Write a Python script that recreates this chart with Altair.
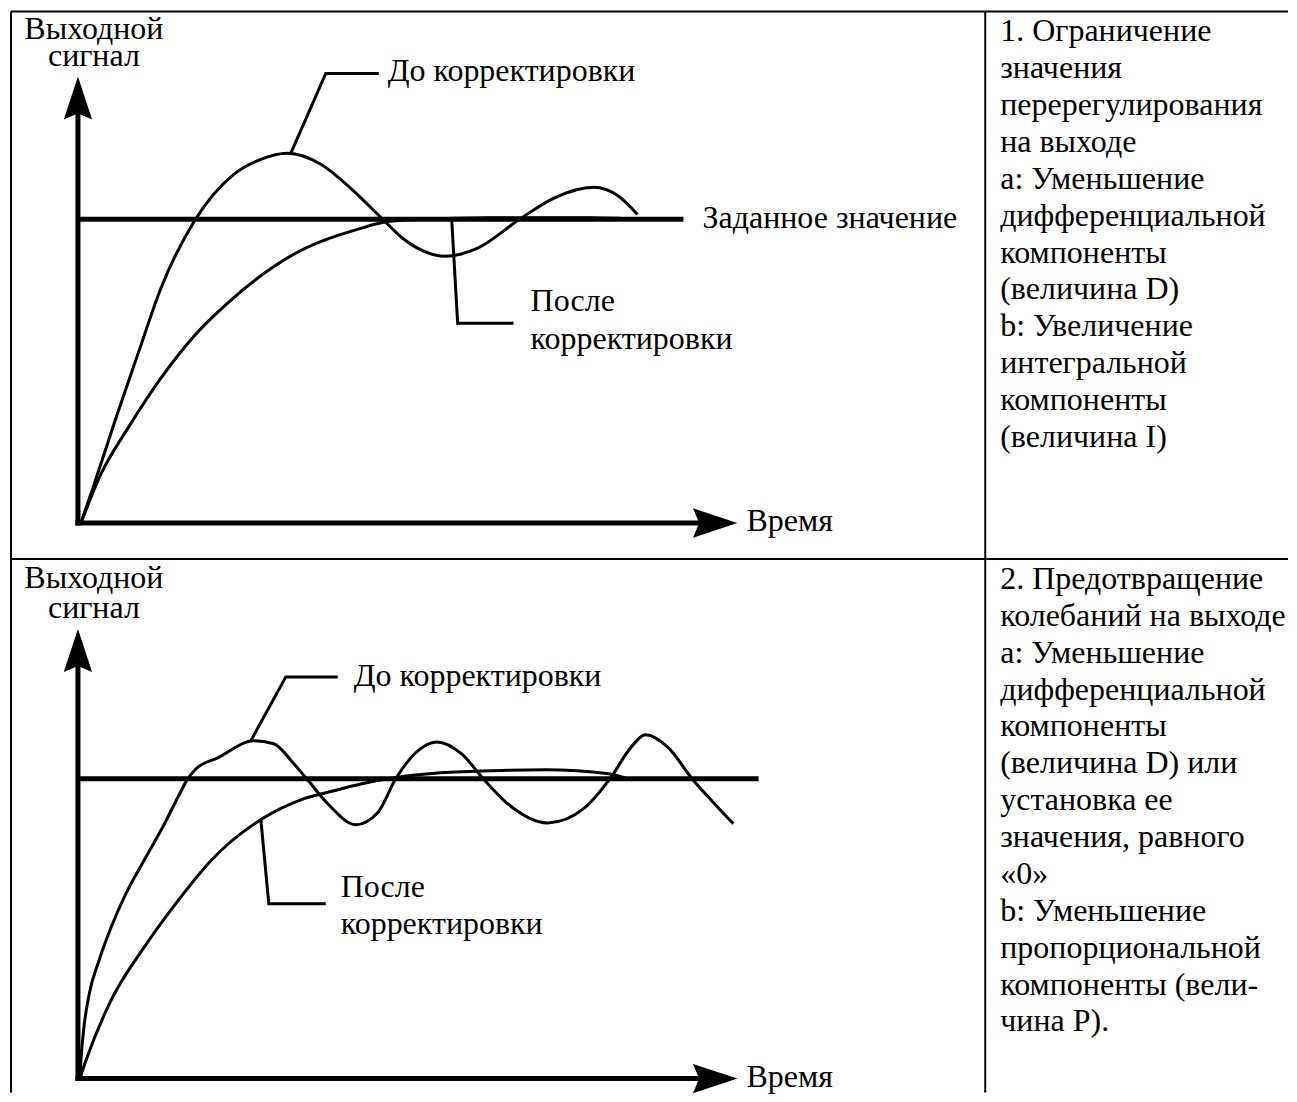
import altair as alt
import pandas as pd

# ---------------- values ----------------
# time axis t (arrow tip = 10), output v (setpoint = 1)

# Panel 1 – overshoot
p1_before_t = [0.045, 0.227, 0.561, 0.909, 1.258, 1.773, 2.364, 2.773, 3.182, 3.682, 4.136,
               4.636, 4.924, 5.242, 5.561, 6.061, 6.697, 7.212, 7.818, 8.197, 8.485]
p1_before_v = [0.0, 0.115, 0.336, 0.556, 0.773, 0.997, 1.148, 1.197, 1.217, 1.181, 1.102,
               0.997, 0.9375, 0.895, 0.878, 0.905, 1.0, 1.069, 1.105, 1.076, 1.016]
p1_after_t = [0.045, 0.348, 0.758, 1.258, 1.758, 2.273, 3.273, 4.288, 4.636, 5.197, 6.242, 7.758, 8.212]
p1_after_v = [0.0, 0.161, 0.3125, 0.477, 0.615, 0.725, 0.885, 0.970, 0.990, 1.0, 1.005, 1.005, 1.003]
p1_lead_before_t = [3.227, 3.758, 4.561]
p1_lead_before_v = [1.217, 1.480, 1.480]
p1_lead_after_t = [5.667, 5.758, 6.606]
p1_lead_after_v = [1.0, 0.658, 0.658]
p1_setpoint_end = 9.18
p1_axis_tip_t, p1_axis_tip_v = 10.0, 1.47

# Panel 2 – oscillation
p2_before_t = [0.03, 0.045, 0.09, 0.171, 0.318, 0.5, 0.727, 1.0, 1.288, 1.535, 1.662, 1.788, 2.121,
               2.667, 2.970, 3.273, 3.470, 3.788, 4.212, 4.545, 4.818, 5.121, 5.439, 5.818, 6.136,
               6.515, 7.121, 7.682, 8.076, 8.379, 8.606, 8.955, 9.303, 9.652, 9.939]
p2_before_v = [0.0, 0.06, 0.17, 0.282, 0.393, 0.503, 0.617, 0.727, 0.84, 0.947, 0.999, 1.033, 1.07,
               1.127, 1.117, 1.05, 1.0, 0.917, 0.847, 0.887, 1.0, 1.087, 1.123, 1.083, 1.003,
               0.917, 0.853, 0.903, 1.003, 1.103, 1.147, 1.103, 1.003, 0.917, 0.85]
p2_after_t = [0.03, 0.121, 0.5, 1.0, 1.515, 2.015, 2.818, 3.379, 3.879, 4.288, 4.894, 5.727, 7.091, 8.045, 8.303]
p2_after_v = [0.0, 0.06, 0.26, 0.437, 0.593, 0.727, 0.87, 0.93, 0.96, 0.983, 1.007, 1.023, 1.03, 1.017, 1.003]
p2_lead_before_t = [2.621, 3.152, 3.939]
p2_lead_before_v = [1.127, 1.34, 1.34]
p2_lead_after_t = [2.773, 2.894, 3.758]
p2_lead_after_v = [0.865, 0.583, 0.583]
p2_setpoint_end = 10.32
p2_axis_tip_t, p2_axis_tip_v = 10.0, 1.50

# labels: (text, t, v)
p1_labels_center = [("Выходной", 0.242, 1.595), ("сигнал", 0.242, 1.503)]
p1_labels_left = [("До корректировки", 4.697, 1.454), ("Заданное значение", 9.470, 0.970),
                  ("После", 6.864, 0.697), ("корректировки", 6.864, 0.572), ("Время", 10.136, -0.026)]
p2_labels_center = [("Выходной", 0.242, 1.637), ("сигнал", 0.242, 1.537)]
p2_labels_left = [("До корректировки", 4.182, 1.31), ("После", 3.985, 0.607),
                  ("корректировки", 3.985, 0.483), ("Время", 10.136, -0.027)]

row1_lines = ["1. Ограничение", "значения", "перерегулирования", "на выходе", "a: Уменьшение",
              "дифференциальной", "компоненты", "(величина D)", "b: Увеличение", "интегральной",
              "компоненты", "(величина I)"]
row2_lines = ["2. Предотвращение", "колебаний на выходе", "a: Уменьшение", "дифференциальной",
              "компоненты", "(величина D) или", "установка ее", "значения, равного", "«0»",
              "b: Уменьшение", "пропорциональной", "компоненты (вели-", "чина P)."]

# ---------------- layout ----------------
DIAG_W = 975
TEXT_W = 303
ROW1_H = 548
ROW2_H = 534
FONT = "Liberation Serif, Times New Roman, serif"
FS_LEFT = 32
FS_RIGHT = 32
LINE_STEP = 36.9
FIRST_BASE = 30

UP_ARROW = "M0,0 L0.66,2 L0,1.72 L-0.66,2 Z"
RIGHT_ARROW = "M0,0 L-2,-0.66 L-1.72,0 L-2,0.66 Z"

one = pd.DataFrame({"a": [0]})


def frame_rules(w, h, right=True):
    layers = [
        alt.Chart(one).mark_rule(color="black", strokeWidth=2).encode(
            x=alt.value(0), x2=alt.value(w), y=alt.value(0)),
        alt.Chart(one).mark_rule(color="black", strokeWidth=2).encode(
            x=alt.value(0), y=alt.value(0), y2=alt.value(h)),
    ]
    if right:
        layers.append(alt.Chart(one).mark_rule(color="black", strokeWidth=2).encode(
            x=alt.value(w), y=alt.value(0), y2=alt.value(h)))
    return layers


def panel(h, origin_x, origin_y, sx, sy, before_t, before_v, after_t, after_v,
          lb_t, lb_v, la_t, la_v, sp_end, tip_t, tip_v, lab_c, lab_l):
    xs = alt.Scale(domain=[-origin_x / sx, (DIAG_W - origin_x) / sx], nice=False, zero=False)
    ys = alt.Scale(domain=[-(h - origin_y) / sy, origin_y / sy], nice=False, zero=False)
    X = lambda f: alt.X(f, type="quantitative", scale=xs, axis=None)
    Y = lambda f: alt.Y(f, type="quantitative", scale=ys, axis=None)

    curves = pd.concat([
        pd.DataFrame({"t": before_t, "v": before_v, "g": "before"}),
        pd.DataFrame({"t": after_t, "v": after_v, "g": "after"}),
    ])
    leaders = pd.concat([
        pd.DataFrame({"t": lb_t, "v": lb_v, "g": "lb", "i": range(len(lb_t))}),
        pd.DataFrame({"t": la_t, "v": la_v, "g": "la", "i": range(len(la_t))}),
    ])
    setp = pd.DataFrame({"t0": [0.0], "t1": [sp_end], "v": [1.0]})
    yaxis = pd.DataFrame({"t": [0.0], "v0": [0.0], "v1": [tip_v - 0.06]})
    xaxis = pd.DataFrame({"t0": [0.0], "t1": [tip_t - 0.3], "v": [0.0]})
    tip_up = pd.DataFrame({"t": [0.0], "v": [tip_v]})
    tip_right = pd.DataFrame({"t": [tip_t], "v": [0.0]})
    labc = pd.DataFrame(lab_c, columns=["txt", "t", "v"])
    labl = pd.DataFrame(lab_l, columns=["txt", "t", "v"])

    layers = [
        alt.Chart(curves).mark_line(color="black", strokeWidth=3, interpolate="monotone").encode(
            x=X("t"), y=Y("v"), detail="g:N"),
        alt.Chart(setp).mark_rule(color="black", strokeWidth=5).encode(
            x=X("t0"), x2="t1", y=Y("v")),
        alt.Chart(yaxis).mark_rule(color="black", strokeWidth=5, strokeCap="square").encode(
            x=X("t"), y=Y("v0"), y2="v1"),
        alt.Chart(xaxis).mark_rule(color="black", strokeWidth=5, strokeCap="square").encode(
            x=X("t0"), x2="t1", y=Y("v")),
        alt.Chart(tip_up).mark_point(shape=UP_ARROW, filled=True, size=1849, color="black",
                                     opacity=1, strokeWidth=0).encode(x=X("t"), y=Y("v")),
        alt.Chart(tip_right).mark_point(shape=RIGHT_ARROW, filled=True, size=1980, color="black",
                                        opacity=1, strokeWidth=0).encode(x=X("t"), y=Y("v")),
        alt.Chart(leaders).mark_line(color="black", strokeWidth=3, interpolate="linear",
                                     strokeJoin="miter").encode(
            x=X("t"), y=Y("v"), detail="g:N", order=alt.Order("i:Q")),
        alt.Chart(labc).mark_text(align="center", baseline="alphabetic", font=FONT,
                                  fontSize=FS_LEFT, color="black").encode(
            x=X("t"), y=Y("v"), text="txt:N"),
        alt.Chart(labl).mark_text(align="left", baseline="alphabetic", font=FONT,
                                  fontSize=FS_LEFT, color="black").encode(
            x=X("t"), y=Y("v"), text="txt:N"),
    ] + frame_rules(DIAG_W, h, right=True)
    return alt.layer(*layers).properties(width=DIAG_W, height=h)


def text_cell(lines, h):
    df = pd.DataFrame({"k": list(range(len(lines))), "txt": lines})
    d0 = -FIRST_BASE / LINE_STEP
    ys = alt.Scale(domain=[d0, d0 + h / LINE_STEP], reverse=True, nice=False, zero=False)
    txt = alt.Chart(df).mark_text(align="left", baseline="alphabetic", font=FONT,
                                  fontSize=FS_RIGHT, color="black", clip=True).encode(
        x=alt.value(15), y=alt.Y("k:Q", scale=ys, axis=None), text="txt:N")
    top = alt.Chart(one).mark_rule(color="black", strokeWidth=2).encode(
        x=alt.value(0), x2=alt.value(TEXT_W), y=alt.value(0))
    return alt.layer(txt, top).properties(width=TEXT_W, height=h)


diag1 = panel(ROW1_H, 67, 512, 66, 304, p1_before_t, p1_before_v, p1_after_t, p1_after_v,
              p1_lead_before_t, p1_lead_before_v, p1_lead_after_t, p1_lead_after_v,
              p1_setpoint_end, p1_axis_tip_t, p1_axis_tip_v, p1_labels_center, p1_labels_left)
diag2 = panel(ROW2_H, 67, 520, 66, 300, p2_before_t, p2_before_v, p2_after_t, p2_after_v,
              p2_lead_before_t, p2_lead_before_v, p2_lead_after_t, p2_lead_after_v,
              p2_setpoint_end, p2_axis_tip_t, p2_axis_tip_v, p2_labels_center, p2_labels_left)

chart = alt.concat(
    diag1, text_cell(row1_lines, ROW1_H), diag2, text_cell(row2_lines, ROW2_H),
    columns=2, spacing=0, bounds="flush", align="each",
).properties(
    padding={"left": 2, "top": 2, "right": 0, "bottom": 0}
).configure_view(stroke=None)

chart.save("out.html", embed_options={"renderer": "svg", "actions": False})
